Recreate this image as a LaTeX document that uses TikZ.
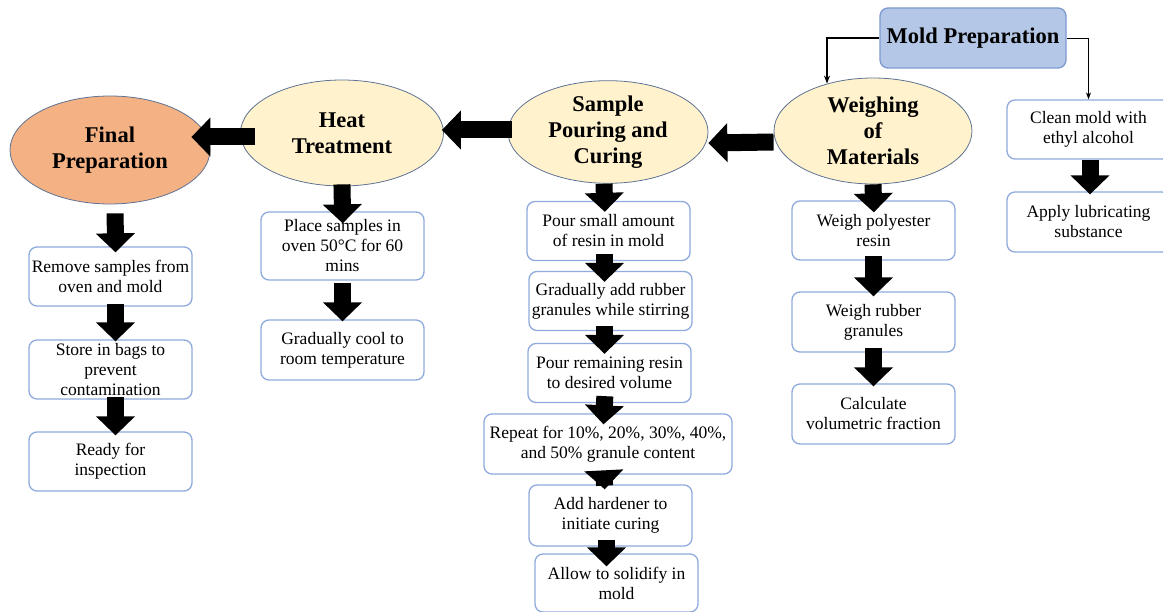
\documentclass[tikz,border=0pt]{standalone}
\usepackage{fontspec}
\setmainfont{Liberation Serif}
\usetikzlibrary{shapes.geometric,arrows.meta}

\definecolor{boxline}{HTML}{8FAADC}
\definecolor{ovalline}{HTML}{5E7393}
\definecolor{ovalfill}{HTML}{FFF2CC}
\definecolor{finalfill}{HTML}{F4B183}
\definecolor{moldfill}{HTML}{B4C7E7}
\definecolor{moldline}{HTML}{7C9AD0}

\tikzset{
  stepbox/.style={draw=boxline, line width=1.3pt, rounded corners=8pt, fill=white,
    align=center, minimum width=163pt, minimum height=59pt, inner sep=0pt,
    font=\fontsize{17.5}{20}\selectfont},
  phase/.style={ellipse, draw=ovalline, line width=0.8pt, fill=ovalfill,
    align=center, inner sep=0pt, font=\bfseries\fontsize{22.5}{26}\selectfont},
  blkarr/.style={line width=17pt, -{Triangle[length=19pt,width=38pt]}},
}

\begin{document}
\begin{tikzpicture}[x=1pt,y=-1pt]
  \useasboundingbox (0,0) rectangle (1163,612);

  % main phases
  \node[stepbox, fill=moldfill, draw=moldline, minimum width=186pt, minimum height=60pt,
    font=\bfseries\fontsize{22.5}{26}\selectfont] (mp) at (973,38) {Mold Preparation};
  \node[phase, fill=finalfill, minimum width=200pt, minimum height=108pt] (fp) at (110,150) {Final\\Preparation};
  \node[phase, minimum width=203pt, minimum height=106pt] (ht) at (342,133) {Heat\\Treatment};
  \node[phase, minimum width=200pt, minimum height=102pt] (sp) at (608,132) {Sample\\Pouring and\\Curing};
  \node[phase, minimum width=198pt, minimum height=106pt] (wm) at (873,131) {Weighing\\of\\Materials};

  % final preparation steps
  \node[stepbox] (rm) at (110.5,276.5) {Remove samples from\\oven and mold};
  \node[stepbox] (sb) at (110.5,369.5) {Store in bags to\\prevent\\contamination};
  \node[stepbox] (rd) at (110.5,461.5) {Ready for\\inspection};

  % heat treatment steps
  \node[stepbox, minimum height=68pt] (ps) at (342.5,246) {Place samples in\\oven 50°C for 60\\mins};
  \node[stepbox, minimum height=60pt] (gc) at (342.5,350) {Gradually cool to\\room temperature};

  % pouring and curing steps
  \node[stepbox] (pa) at (608.5,231) {Pour small amount\\of resin in mold};
  \node[stepbox] (ga) at (610.5,301) {Gradually add rubber\\granules while stirring};
  \node[stepbox] (pr) at (609.5,373) {Pour remaining resin\\to desired volume};
  \node[stepbox, minimum width=248pt, minimum height=60pt] (rp) at (608,444) {Repeat for 10\%, 20\%, 30\%, 40\%,\\and 50\% granule content};
  \node[stepbox, minimum height=61pt] (ah) at (610.5,515.5) {Add hardener to\\initiate curing};
  \node[stepbox, minimum height=58pt] (as) at (616.5,583) {Allow to solidify in\\mold};

  % weighing steps
  \node[stepbox] (wp) at (873.5,230.5) {Weigh polyester\\resin};
  \node[stepbox, minimum height=60pt] (wr) at (873.5,322) {Weigh rubber\\granules};
  \node[stepbox, minimum height=60pt] (cv) at (873.5,414) {Calculate\\volumetric fraction};

  % mold steps
  \node[stepbox] (cl) at (1088.5,129.5) {Clean mold with\\ethyl alcohol};
  \node[stepbox, minimum height=60pt] (al) at (1088.5,222) {Apply lubricating\\substance};

  % thin connectors from mold preparation
  \coordinate (mk) at (827,38);
  \draw[line width=1.8pt, -{Stealth[length=8pt,width=6pt]}] (mp.west) -- (mk) -- (mk |- wm.134);
  \draw[line width=0.8pt, -{Stealth[length=7pt,width=5pt]}] (mp.east) -| (cl.north);

  % phase to phase
  \draw[blkarr] ([yshift=-11pt]wm.west) -- ([yshift=-11pt]sp.east);
  \draw[blkarr, shorten <=-4pt, shorten >=-2pt] ([yshift=2pt]sp.west) -- ([yshift=3pt]ht.east);
  \draw[blkarr, shorten <=-15pt, shorten >=-19pt] ([yshift=-4pt]ht.west) -- ([yshift=13pt]fp.east);

  % final column
  \draw[blkarr, shorten <=9pt, shorten >=-6pt] ([xshift=5pt]fp.south) -- ([xshift=5pt]rm.north);
  \draw[blkarr, shorten <=-3pt, shorten >=-2pt] ([xshift=5pt]rm.south) -- ([xshift=5pt]sb.north);
  \draw[blkarr, shorten <=-3pt, shorten >=-4pt] ([xshift=5pt]sb.south) -- ([xshift=5pt]rd.north);

  % heat column
  \draw[blkarr, shorten <=-2pt, shorten >=-12pt] (ht.south) -- (ps.north);
  \draw[blkarr, shorten <=2pt, shorten >=-2pt] (ps.south) -- (gc.north);

  % pouring column
  \draw[blkarr, shorten <=0pt, shorten >=-11pt] ([xshift=-4pt]sp.south) -- ([xshift=-4pt]pa.north);
  \draw[blkarr, shorten <=-7pt, shorten >=-11pt] ([xshift=-4pt]pa.south) -- ([xshift=-6pt]ga.north);
  \draw[blkarr, shorten <=-5pt, shorten >=-11pt] ([xshift=-6pt]ga.south) -- ([xshift=-5pt]pr.north);
  \draw[blkarr, shorten <=-7pt, shorten >=-11pt] ([xshift=-5pt]pr.south) -- ([xshift=-4pt]rp.north);
  \draw[blkarr, shorten <=-11pt, shorten >=-5pt] ([xshift=-4pt]rp.south) -- ([xshift=-6pt]ah.north);
  \draw[blkarr, shorten <=-7pt, shorten >=-13pt] ([xshift=-4pt]ah.south) -- ([xshift=-10pt]as.north);

  % weighing column
  \draw[blkarr, shorten <=0pt, shorten >=-12pt] (wm.south) -- (wp.north);
  \draw[blkarr, shorten <=-5pt, shorten >=-5pt] (wp.south) -- (wr.north);
  \draw[blkarr, shorten <=-5pt, shorten >=-3pt] (wr.south) -- (cv.north);

  % mold column
  \draw[blkarr, shorten <=0pt, shorten >=-3pt] ([xshift=1.5pt]cl.south) -- ([xshift=1.5pt]al.north);
\end{tikzpicture}
\end{document}
